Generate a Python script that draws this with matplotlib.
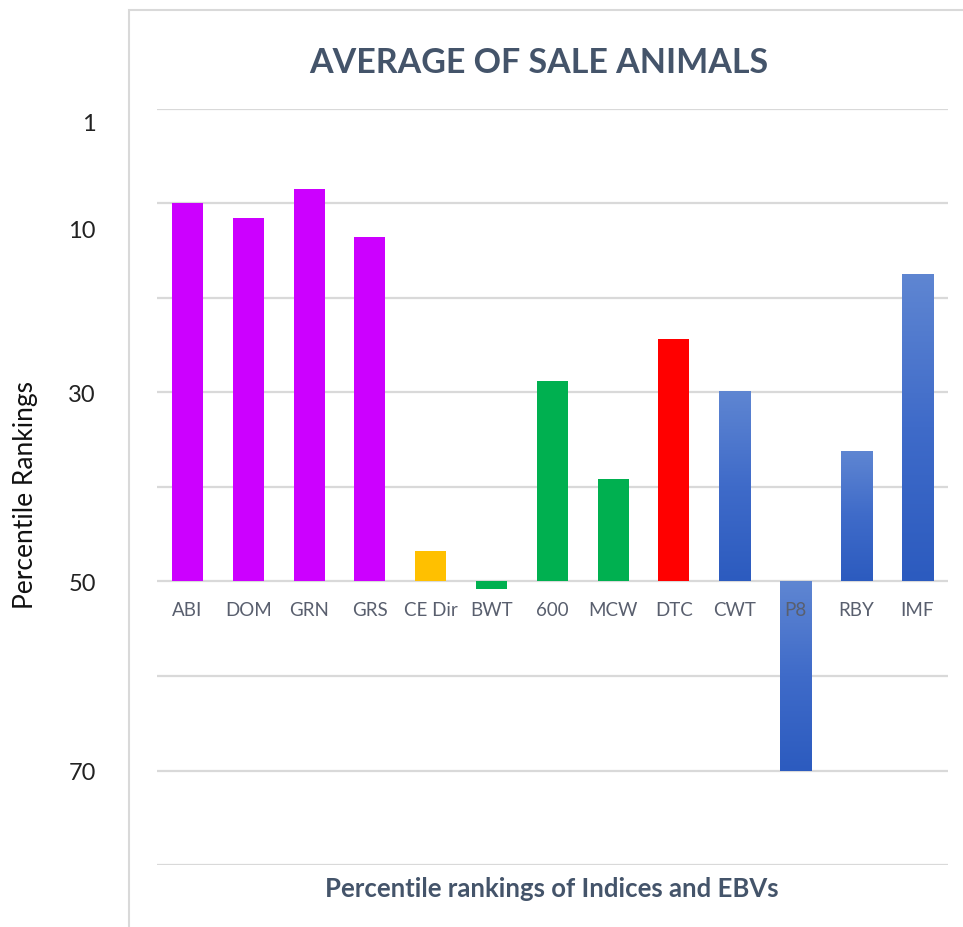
import numpy as np
import matplotlib.pyplot as plt
from matplotlib.patches import Rectangle
from matplotlib.colors import LinearSegmentedColormap

plt.rcParams['font.family'] = ['Lato', 'DejaVu Sans']

# percentile rankings, bars hang from the 50th percentile line
traits = ['ABI', 'DOM', 'GRN', 'GRS', 'CE Dir', 'BWT', '600', 'MCW', 'DTC', 'CWT', 'P8', 'RBY', 'IMF']
percentile = [10.0, 11.5, 8.5, 13.5, 46.8, 50.8, 28.8, 39.2, 24.3, 29.8, 70.0, 36.2, 17.5]
groups = ['index', 'index', 'index', 'index', 'calving', 'growth', 'growth', 'growth',
          'fertility', 'carcase', 'carcase', 'carcase', 'carcase']
baseline = 50

tick_pos = [1.3, 12.6, 30, 50, 70]
tick_labels = ['1', '10', '30', '50', '70']

group_colors = {'index': '#CC00FF', 'calving': '#FFC000', 'growth': '#00B050',
                'fertility': '#FF0000', 'carcase': None}
blue_grad = LinearSegmentedColormap.from_list('bluegrad', ['#5F86D2', '#3F6BC9', '#2C5BBF'])

fig = plt.figure(figsize=(9.63, 9.28), dpi=100)
ax = fig.add_axes([0.163, 0.0668, 0.821, 0.8147])

# chart frame
fig.patches.append(Rectangle((129 / 963, -0.05), 1.0, 1 - 11 / 928 + 0.05,
                             transform=fig.transFigure, fill=False,
                             edgecolor='#D9D9D9', linewidth=1.5, zorder=0))

x = np.arange(len(traits))
width = 0.51
heights = [p - baseline for p in percentile]
colors = [group_colors[g] if group_colors[g] else 'none' for g in groups]
bars = ax.bar(x, heights, width, bottom=baseline, color=colors, zorder=2, linewidth=0)

grad = np.linspace(0, 1, 256).reshape(-1, 1)
for bar, g in zip(bars, groups):
    if g != 'carcase':
        continue
    l = bar.get_x()
    r = l + bar.get_width()
    y0, y1 = sorted([bar.get_y(), bar.get_y() + bar.get_height()])
    im = ax.imshow(grad, cmap=blue_grad, aspect='auto', origin='upper',
                   extent=(l, r, y1, y0), zorder=2)
    im.set_clip_path(bar)

ax.set_xlim(-0.5, len(traits) - 0.5)
ax.set_ylim(80, 0)

for v in range(0, 81, 10):
    ax.axhline(v, color='#D9D9D9', linewidth=1.6, zorder=1)

for xi, name in zip(x, traits):
    ax.text(xi, baseline + 3.0, name, ha='center', va='center', fontsize=13.5,
            color='#595F6E', zorder=3)

for sp in ax.spines.values():
    sp.set_visible(False)
ax.set_xticks([])
ax.set_yticks(tick_pos)
ax.set_yticklabels(tick_labels, fontsize=17, color='#222222')
ax.tick_params(axis='y', length=0, pad=44)

fig.text(0.026, 0.467, 'Percentile Rankings', rotation=90, ha='center', va='center',
         fontsize=19, color='#111111')
fig.text(0.559, 0.932, 'AVERAGE OF SALE ANIMALS', ha='center', va='center',
         fontsize=24.5, fontweight='bold', color='#44546A')
fig.text(0.573, 0.042, 'Percentile rankings of Indices and EBVs', ha='center', va='center',
         fontsize=18.5, fontweight='bold', color='#44546A')

fig.savefig('out.png', dpi=100, facecolor='white')
